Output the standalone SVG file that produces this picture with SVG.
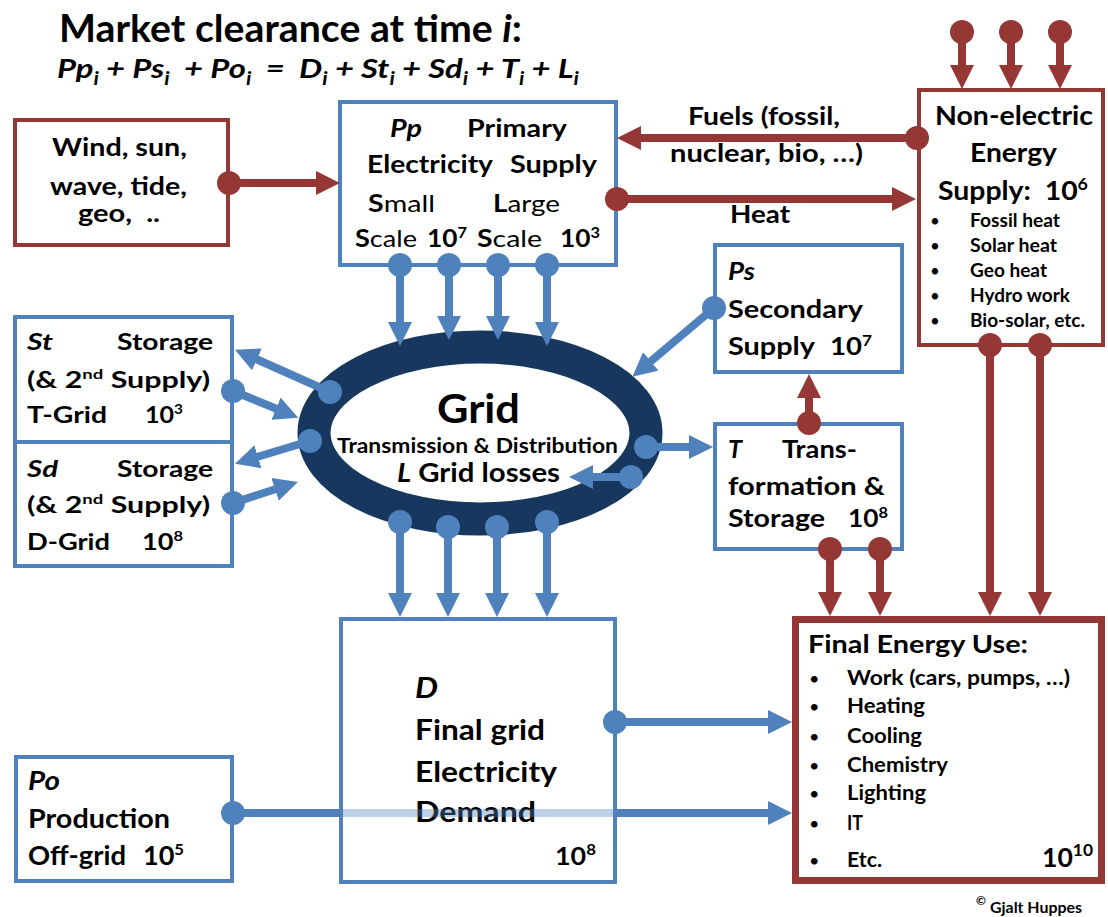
<svg xmlns="http://www.w3.org/2000/svg" width="1108" height="917" viewBox="0 0 1108 917">
<style>
text{font-family:Lato,"Open Sans","Liberation Sans",sans-serif;font-weight:bold;fill:#000}
.n{font-weight:normal}
.i{font-style:italic}
.bb{fill:#fff;stroke:#4f81bd;stroke-width:4}
.rb{fill:#fff;stroke:#953735;stroke-width:4}
.bl{fill:none;stroke:#4f81bd;stroke-width:8}
.rl{fill:none;stroke:#953735;stroke-width:8}
.ba{marker-start:url(#dB);marker-end:url(#aB)}
.ra{marker-start:url(#dR);marker-end:url(#aR)}
</style>
<defs>
<marker id="aB" viewBox="0 0 24 24" refX="1" refY="12" markerWidth="24" markerHeight="24" markerUnits="userSpaceOnUse" orient="auto"><path d="M0,0L24,12L0,24z" fill="#4f81bd"/></marker>
<marker id="aR" viewBox="0 0 24 24" refX="1" refY="12" markerWidth="24" markerHeight="24" markerUnits="userSpaceOnUse" orient="auto"><path d="M0,0L24,12L0,24z" fill="#953735"/></marker>
<marker id="dB" viewBox="-12 -12 24 24" refX="0" refY="0" markerWidth="24" markerHeight="24" markerUnits="userSpaceOnUse"><circle r="12" fill="#4f81bd"/></marker>
<marker id="dR" viewBox="-12 -12 24 24" refX="0" refY="0" markerWidth="24" markerHeight="24" markerUnits="userSpaceOnUse"><circle r="12" fill="#953735"/></marker>
</defs>
<rect width="1108" height="917" fill="#fff"/>

<g id="title">
<text x="59" y="42" font-size="38" textLength="463" lengthAdjust="spacingAndGlyphs">Market clearance at time <tspan class="i">i</tspan>:</text>
<text x="57" y="78" font-size="27" class="i" textLength="522" lengthAdjust="spacingAndGlyphs" xml:space="preserve">Pp<tspan dy="7" font-size="18">i</tspan><tspan dy="-7"> + Ps</tspan><tspan dy="7" font-size="18">i</tspan><tspan dy="-7">  + Po</tspan><tspan dy="7" font-size="18">i</tspan><tspan dy="-7">  =  D</tspan><tspan dy="7" font-size="18">i</tspan><tspan dy="-7"> + St</tspan><tspan dy="7" font-size="18">i</tspan><tspan dy="-7"> + Sd</tspan><tspan dy="7" font-size="18">i</tspan><tspan dy="-7"> + T</tspan><tspan dy="7" font-size="18">i</tspan><tspan dy="-7"> + L</tspan><tspan dy="7" font-size="18">i</tspan></text>
</g>

<g id="renewables">
<rect class="rb" x="15" y="120" width="213" height="125"/>
<text x="52" y="156" font-size="25" textLength="135" lengthAdjust="spacingAndGlyphs">Wind, sun,</text>
<text x="50" y="195" font-size="25" textLength="137" lengthAdjust="spacingAndGlyphs">wave, tide,</text>
<text x="78" y="222" font-size="25" textLength="82" lengthAdjust="spacingAndGlyphs" xml:space="preserve">geo,  ..</text>
</g>

<g id="primary">
<rect class="bb" x="340" y="102" width="276" height="163"/>
<text x="390" y="137" font-size="24" class="i" textLength="32" lengthAdjust="spacingAndGlyphs">Pp</text>
<text x="467" y="137" font-size="24" textLength="100" lengthAdjust="spacingAndGlyphs">Primary</text>
<text x="367" y="173" font-size="24" textLength="126" lengthAdjust="spacingAndGlyphs">Electricity</text>
<text x="510" y="173" font-size="24" textLength="87" lengthAdjust="spacingAndGlyphs">Supply</text>
<text x="368" y="212" font-size="24" textLength="67" lengthAdjust="spacingAndGlyphs">S<tspan class="n">mall</tspan></text>
<text x="493" y="212" font-size="24" textLength="67" lengthAdjust="spacingAndGlyphs">L<tspan class="n">arge</tspan></text>
<text x="355" y="247" font-size="24" textLength="62" lengthAdjust="spacingAndGlyphs">S<tspan class="n">cale</tspan></text>
<text x="427" y="247" font-size="24" textLength="40" lengthAdjust="spacingAndGlyphs">10<tspan dy="-9" font-size="15">7</tspan></text>
<text x="477" y="247" font-size="24" textLength="65" lengthAdjust="spacingAndGlyphs">S<tspan class="n">cale</tspan></text>
<text x="560" y="247" font-size="24" textLength="40" lengthAdjust="spacingAndGlyphs">10<tspan dy="-9" font-size="15">3</tspan></text>
</g>

<g id="nonelectric">
<rect class="rb" x="919" y="90" width="184" height="255"/>
<text x="935" y="125" font-size="27" textLength="158" lengthAdjust="spacingAndGlyphs">Non-electric</text>
<text x="970" y="162" font-size="27" textLength="87" lengthAdjust="spacingAndGlyphs">Energy</text>
<text x="938" y="200" font-size="27" textLength="150" lengthAdjust="spacingAndGlyphs" xml:space="preserve">Supply:  10<tspan dy="-10" font-size="17">6</tspan></text>
<g font-size="17">
<text class="n" x="930" y="227">•</text>
<text class="n" x="930" y="252">•</text>
<text class="n" x="930" y="277">•</text>
<text class="n" x="930" y="302">•</text>
<text class="n" x="930" y="327">•</text>
</g>
<text x="970" y="227" font-size="18" textLength="90" lengthAdjust="spacingAndGlyphs">Fossil heat</text>
<text x="970" y="252" font-size="18" textLength="87" lengthAdjust="spacingAndGlyphs">Solar heat</text>
<text x="970" y="277" font-size="18" textLength="77" lengthAdjust="spacingAndGlyphs">Geo heat</text>
<text x="970" y="302" font-size="18" textLength="100" lengthAdjust="spacingAndGlyphs">Hydro work</text>
<text x="970" y="327" font-size="18" textLength="115" lengthAdjust="spacingAndGlyphs">Bio-solar, etc.</text>
</g>

<g id="storageT">
<rect class="bb" x="15" y="317" width="217" height="125"/>
<text x="27" y="350" font-size="23" class="i" textLength="26" lengthAdjust="spacingAndGlyphs">St</text>
<text x="117" y="350" font-size="23" textLength="96" lengthAdjust="spacingAndGlyphs">Storage</text>
<text x="27" y="388" font-size="23" textLength="183" lengthAdjust="spacingAndGlyphs">(&amp; 2<tspan dy="-9" font-size="14">nd</tspan><tspan dy="9"> Supply)</tspan></text>
<text x="27" y="423" font-size="23" textLength="80" lengthAdjust="spacingAndGlyphs">T-Grid</text>
<text x="145" y="423" font-size="23" textLength="38" lengthAdjust="spacingAndGlyphs">10<tspan dy="-9" font-size="14">3</tspan></text>
</g>

<g id="storageD">
<rect class="bb" x="15" y="442" width="217" height="124"/>
<text x="27" y="477" font-size="23" class="i" textLength="31" lengthAdjust="spacingAndGlyphs">Sd</text>
<text x="117" y="477" font-size="23" textLength="96" lengthAdjust="spacingAndGlyphs">Storage</text>
<text x="27" y="513" font-size="23" textLength="183" lengthAdjust="spacingAndGlyphs">(&amp; 2<tspan dy="-9" font-size="14">nd</tspan><tspan dy="9"> Supply)</tspan></text>
<text x="27" y="550" font-size="23" textLength="83" lengthAdjust="spacingAndGlyphs">D-Grid</text>
<text x="142" y="550" font-size="23" textLength="41" lengthAdjust="spacingAndGlyphs">10<tspan dy="-9" font-size="14">8</tspan></text>
</g>

<g id="grid">
<ellipse cx="480" cy="433" rx="166" ry="86" fill="#fff" stroke="#17375e" stroke-width="33"/>
<text x="437" y="423" font-size="40" textLength="83" lengthAdjust="spacingAndGlyphs">Grid</text>
<text x="337" y="453" font-size="21" textLength="281" lengthAdjust="spacingAndGlyphs">Transmission &amp; Distribution</text>
<text x="397" y="482" font-size="26" textLength="163" lengthAdjust="spacingAndGlyphs"><tspan class="i">L</tspan> Grid losses</text>
</g>

<g id="secondary">
<rect class="bb" x="715" y="245" width="187" height="127"/>
<text x="728" y="280" font-size="24" class="i" textLength="27" lengthAdjust="spacingAndGlyphs">Ps</text>
<text x="728" y="318" font-size="24" textLength="135" lengthAdjust="spacingAndGlyphs">Secondary</text>
<text x="728" y="355" font-size="24" textLength="87" lengthAdjust="spacingAndGlyphs">Supply</text>
<text x="830" y="355" font-size="24" textLength="42" lengthAdjust="spacingAndGlyphs">10<tspan dy="-9" font-size="15">7</tspan></text>
</g>

<g id="transformation">
<rect class="bb" x="715" y="424" width="187" height="125"/>
<text x="728" y="458" font-size="24" class="i" textLength="14" lengthAdjust="spacingAndGlyphs">T</text>
<text x="782" y="458" font-size="24" textLength="75" lengthAdjust="spacingAndGlyphs">Trans-</text>
<text x="728" y="495" font-size="24" textLength="157" lengthAdjust="spacingAndGlyphs">formation &amp;</text>
<text x="728" y="527" font-size="24" textLength="97" lengthAdjust="spacingAndGlyphs">Storage</text>
<text x="848" y="527" font-size="24" textLength="40" lengthAdjust="spacingAndGlyphs">10<tspan dy="-9" font-size="15">8</tspan></text>
</g>

<g id="demand">
<rect class="bb" x="341" y="619" width="274" height="263"/>
<text x="415" y="698" font-size="28" class="i" textLength="23" lengthAdjust="spacingAndGlyphs">D</text>
<text x="415" y="740" font-size="28" textLength="130" lengthAdjust="spacingAndGlyphs">Final grid</text>
<text x="415" y="782" font-size="28" textLength="142" lengthAdjust="spacingAndGlyphs">Electricity</text>
<text x="415" y="822" font-size="28" textLength="121" lengthAdjust="spacingAndGlyphs">Demand</text>
<text x="555" y="865" font-size="24" textLength="41" lengthAdjust="spacingAndGlyphs">10<tspan dy="-10" font-size="15">8</tspan></text>
</g>

<g id="offgrid">
<rect class="bb" x="16" y="757" width="216" height="124"/>
<text x="28" y="790" font-size="26" class="i" textLength="32" lengthAdjust="spacingAndGlyphs">Po</text>
<text x="28" y="828" font-size="26" textLength="142" lengthAdjust="spacingAndGlyphs">Production</text>
<text x="28" y="865" font-size="26" textLength="98" lengthAdjust="spacingAndGlyphs">Off-grid</text>
<text x="143" y="865" font-size="26" textLength="41" lengthAdjust="spacingAndGlyphs">10<tspan dy="-10" font-size="16">5</tspan></text>
</g>

<g id="finaluse">
<rect x="795.5" y="619.5" width="306" height="261" fill="#fff" stroke="#953735" stroke-width="7"/>
<text x="808" y="653" font-size="25" textLength="220" lengthAdjust="spacingAndGlyphs">Final Energy Use:</text>
<g font-size="18">
<text class="n" x="809" y="685">•</text>
<text class="n" x="809" y="713">•</text>
<text class="n" x="809" y="743">•</text>
<text class="n" x="809" y="772">•</text>
<text class="n" x="809" y="800">•</text>
<text class="n" x="809" y="830">•</text>
<text class="n" x="809" y="867">•</text>
</g>
<text x="847" y="685" font-size="20" textLength="223" lengthAdjust="spacingAndGlyphs">Work (cars, pumps, …)</text>
<text x="847" y="713" font-size="20" textLength="78" lengthAdjust="spacingAndGlyphs">Heating</text>
<text x="847" y="743" font-size="20" textLength="75" lengthAdjust="spacingAndGlyphs">Cooling</text>
<text x="847" y="772" font-size="20" textLength="101" lengthAdjust="spacingAndGlyphs">Chemistry</text>
<text x="847" y="800" font-size="20" textLength="79" lengthAdjust="spacingAndGlyphs">Lighting</text>
<text x="847" y="830" font-size="20" textLength="16" lengthAdjust="spacingAndGlyphs">IT</text>
<text x="847" y="867" font-size="20" textLength="35" lengthAdjust="spacingAndGlyphs">Etc.</text>
<text x="1042" y="867" font-size="26" textLength="51" lengthAdjust="spacingAndGlyphs">10<tspan dy="-11" font-size="17">10</tspan></text>
</g>

<g id="flowlabels">
<text x="688" y="125" font-size="24" textLength="152" lengthAdjust="spacingAndGlyphs">Fuels (fossil,</text>
<text x="670" y="162" font-size="24" textLength="193" lengthAdjust="spacingAndGlyphs">nuclear, bio, …)</text>
<text x="730" y="223" font-size="24" textLength="60" lengthAdjust="spacingAndGlyphs">Heat</text>
</g>

<g id="copyright">
<text x="976" y="905" font-size="12">©</text>
<text x="990" y="913" font-size="15" textLength="92" lengthAdjust="spacingAndGlyphs">Gjalt Huppes</text>
</g>

<g id="connectors">
<path class="bl ba" d="M400,265V323"/>
<path class="bl ba" d="M449,265V317"/>
<path class="bl ba" d="M498,265V317"/>
<path class="bl ba" d="M547,265V323"/>
<path class="bl ba" d="M330,392L256,359"/>
<path class="bl ba" d="M233,391L277,409"/>
<path class="bl ba" d="M310,441L257,457"/>
<path class="bl ba" d="M233,503L276,489"/>
<path class="bl ba" d="M714,308L650,362"/>
<path class="bl ba" d="M646,447H690"/>
<path class="bl ba" d="M631,477H592"/>
<path class="bl ba" d="M400,522V594"/>
<path class="bl ba" d="M448,527V594"/>
<path class="bl ba" d="M497,527V594"/>
<path class="bl ba" d="M547,522V594"/>
<path class="bl ba" d="M615,722H769"/>
<path class="bl" style="marker-start:url(#dB)" d="M233,813H341"/>
<path class="bl" stroke-opacity="0.38" d="M341,813H615"/>
<path class="bl" style="marker-end:url(#aB)" d="M615,813H769"/>
<path class="rl ra" d="M229,183H317"/>
<path class="rl ra" d="M917,138H640"/>
<path class="rl ra" d="M617,199H893"/>
<path class="rl ra" d="M962,32V66"/>
<path class="rl ra" d="M1011,32V66"/>
<path class="rl ra" d="M1060,32V66"/>
<path class="rl ra" d="M809,423V397"/>
<path class="rl ra" d="M830,549V593"/>
<path class="rl ra" d="M880,549V593"/>
<path class="rl ra" d="M990,345V593"/>
<path class="rl ra" d="M1040,345V593"/>
</g>
</svg>
